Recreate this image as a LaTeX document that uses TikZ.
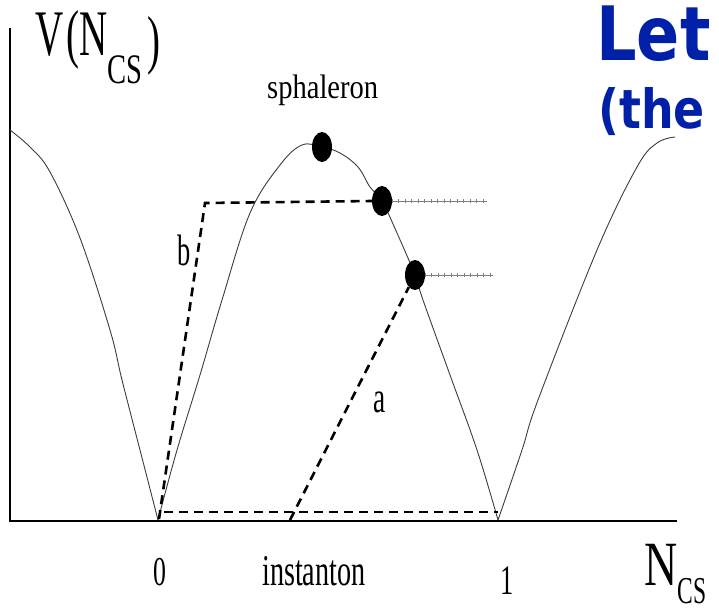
\documentclass[tikz,border=0pt]{standalone}
\usepackage{fontspec}
\setmainfont{Liberation Serif}
\newfontfamily\slideFont{DejaVu Sans}
\usepackage{xcolor}
\usetikzlibrary{calc,shapes.geometric,decorations.pathreplacing}
\definecolor{slideBlue}{RGB}{0,32,168}
\definecolor{curveGray}{RGB}{60,60,60}
\newcommand{\SerifText}[3]{\scalebox{#2}[1]{\fontsize{#1}{#1}\selectfont #3}}
\newcommand{\SlideText}[2]{\scalebox{0.85}[1]{\slideFont\bfseries\fontsize{#1}{#1}\selectfont #2}}
\tikzset{
  axisLine/.style={line width=2.4pt,black},
  curveLine/.style={line width=0.9pt,curveGray},
  dashPath/.style={line width=2.6pt,dash pattern=on 9pt off 6pt},
  ballDot/.style={ellipse,fill=black,inner sep=0pt,minimum width=20pt,minimum height=30pt},
  tickLine/.style={line width=0.6pt,gray,postaction={decorate,draw,decoration={ticks,segment length=6.5pt,amplitude=1.6pt}}},
  labelText/.style={inner sep=0pt,anchor=base west}
}
\begin{document}
\begin{tikzpicture}[x=1pt,y=-1pt]
\useasboundingbox (0,0) rectangle (719,613);
% axes
\coordinate (axTop) at (10,28);
\coordinate (axOrigin) at (10,521);
\coordinate (axRight) at (677,521);
\draw[axisLine] (axTop) -- (axOrigin) -- (axRight);
% potential
\draw[curveLine] plot[smooth,tension=0.6] coordinates {(10,130) (30,147) (50,172) (80,238) (110,330) (122,380) (140,450) (158,520)};
\draw[curveLine] plot[smooth,tension=0.6] coordinates {(158,520) (177,450) (200,375) (222,300) (250,213) (280,165) (302,145) (322,147) (340,153) (358,167) (370,187) (382,201) (397,233) (415,275) (423,300) (450,375) (477,450) (498,520)};
\draw[curveLine] plot[smooth,tension=0.6] coordinates {(498,520) (522,450) (538,400) (597,250) (637,167) (657,143) (675,137)};
% balls
\node[ballDot] (peakBall) at (322,147) {};
\node[ballDot] (midBall) at (382,201) {};
\node[ballDot] (lowBall) at (415,275) {};
\coordinate (midEnd) at (487,201);
\coordinate (lowEnd) at (493,275);
\draw[tickLine] (midBall.east) -- (midEnd);
\draw[tickLine] (lowBall.east) -- (lowEnd);
% paths
\coordinate (zeroPt) at (159,519);
\coordinate (bCorner) at (205,203);
\coordinate (instStart) at (164,512);
\coordinate (instEnd) at (498,512);
\coordinate (aStart) at (290,520);
\draw[dashPath] (zeroPt) -- (bCorner) -- (midBall.west);
\draw[dashPath] (instStart) -- (instEnd);
\draw[dashPath] (aStart) -- (lowBall);
% labels
\node[labelText] (vLabel) at (35,55) {\SerifText{65}{0.6}{V\hspace{0.08em}(N}\raisebox{-28pt}{\SerifText{42}{0.68}{CS}}\hspace{5pt}\raisebox{-6pt}{\SerifText{65}{0.6}{)}}};
\node[labelText] (sphLabel) at (267,98) {\SerifText{34}{0.84}{sphaleron}};
\node[labelText] (bLabel) at (177,265) {\SerifText{44}{0.6}{b}};
\node[labelText] (aLabel) at (373,412) {\SerifText{44}{0.62}{a}};
\node[inner sep=0pt,anchor=base] (zeroLabel) at (159.5,585) {\SerifText{41}{0.63}{0}};
\node[labelText] (instLabel) at (262,585) {\SerifText{44}{0.64}{instanton}};
\node[inner sep=0pt,anchor=base] (oneLabel) at (507,594) {\SerifText{42}{0.63}{1}};
\node[labelText] (nLabel) at (644,585) {\SerifText{63}{0.73}{N}\raisebox{-18pt}{\SerifText{38}{0.62}{CS}}};
\node[labelText] (letLabel) at (596,60) {\color{slideBlue}\SlideText{75}{Let}};
\node[labelText] (theLabel) at (598,128) {\color{slideBlue}\SlideText{54}{(the}};
\end{tikzpicture}
\end{document}
